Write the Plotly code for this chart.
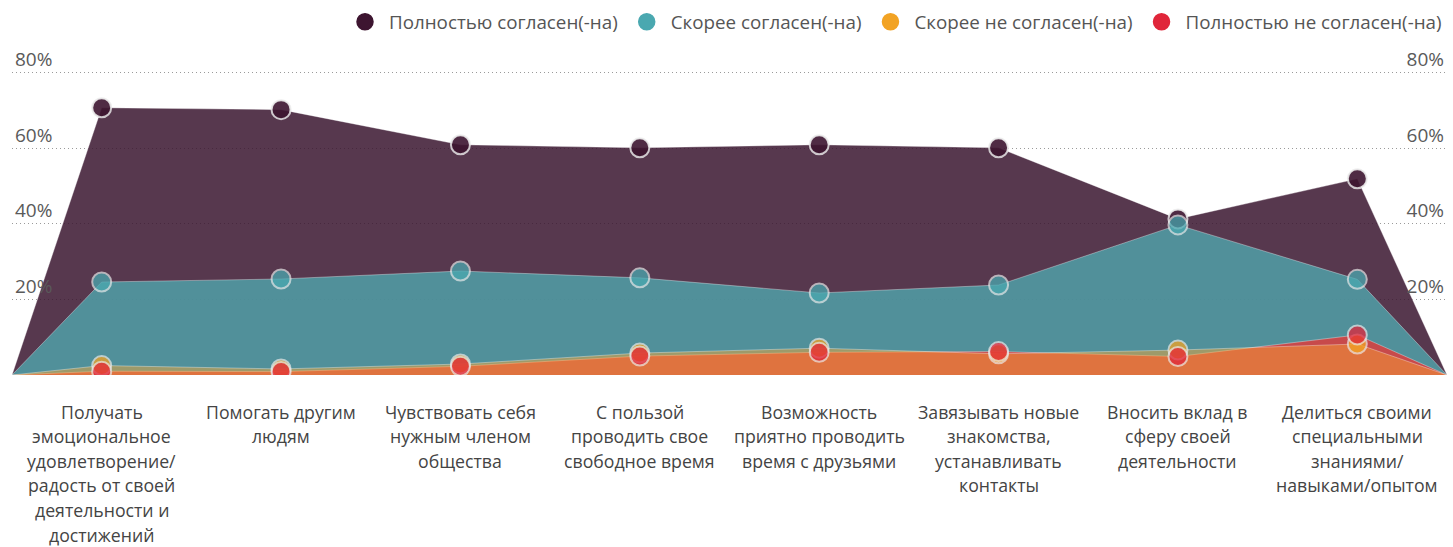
import plotly.graph_objects as go

categories = [
    "Получать<br>эмоциональное<br>удовлетворение/<br>радость от своей<br>деятельности и<br>достижений",
    "Помогать другим<br>людям",
    "Чувствовать себя<br>нужным членом<br>общества",
    "С пользой<br>проводить свое<br>свободное время",
    "Возможность<br>приятно проводить<br>время с друзьями",
    "Завязывать новые<br>знакомства,<br>устанавливать<br>контакты",
    "Вносить вклад в<br>сферу своей<br>деятельности",
    "Делиться своими<br>специальными<br>знаниями/<br>навыками/опытом",
]

series_names = [
    "Полностью согласен(-на)",
    "Скорее согласен(-на)",
    "Скорее не согласен(-на)",
    "Полностью не согласен(-на)",
]
fully_agree = [70.7, 70.2, 60.9, 60.1, 60.9, 60.1, 41.3, 51.9]
rather_agree = [24.6, 25.4, 27.5, 25.7, 21.7, 23.8, 39.7, 25.3]
rather_disagree = [2.5, 1.6, 2.9, 5.8, 7.1, 5.6, 6.6, 8.2]
fully_disagree = [1.0, 0.9, 2.3, 5.0, 6.0, 6.2, 4.9, 10.6]

y_ticks = [0, 20, 40, 60, 80]
y_tick_text = ["", "20%", "40%", "60%", "80%"]

marker_colors = ["#3d1530", "#4aa8b0", "#f2a324", "#e0263a"]
fill_colors = [
    "rgba(58,21,47,0.85)",
    "rgba(80,166,174,0.8)",
    "rgba(253,167,49,0.45)",
    "rgba(229,56,55,0.8)",
]
marker_opacity = [0.9, 0.75, 0.75, 0.75]
values = [fully_agree, rather_agree, rather_disagree, fully_disagree]

xs = list(range(1, len(categories) + 1))
x_area = [0.5] + xs + [len(categories) + 0.5]

Y_TOP = 91
PX_PER_UNIT = 302 / 80
PLOT_H = Y_TOP * PX_PER_UNIT
M_B = 172
M_T = 547 - M_B - PLOT_H

fig = go.Figure()

# areas: purple, teal, red, orange (orange on top, translucent)
for i in [0, 1, 3, 2]:
    fig.add_trace(go.Scatter(
        x=x_area, y=[0] + values[i] + [0],
        mode="lines", fill="tozeroy", fillcolor=fill_colors[i],
        line=dict(width=1, color="rgba(255,255,255,0.35)"),
        hoverinfo="skip", showlegend=False,
    ))

# markers
for i in [0, 1, 2, 3]:
    fig.add_trace(go.Scatter(
        x=xs, y=values[i], mode="markers",
        marker=dict(size=19, color=marker_colors[i], opacity=marker_opacity[i],
                    line=dict(width=2, color="rgba(235,235,235,0.9)")),
        showlegend=False, name=series_names[i],
    ))

# legend entries
for i in range(4):
    fig.add_trace(go.Scatter(
        x=[None], y=[None], mode="markers", name=series_names[i],
        marker=dict(size=16, color=marker_colors[i],
                    line=dict(width=1.5, color=marker_colors[i])),
    ))

# right-side axis carrier
fig.add_trace(go.Scatter(x=[None], y=[None], yaxis="y2", showlegend=False))

for k, lab in enumerate(categories):
    for j, line in enumerate(lab.split("<br>")):
        fig.add_annotation(
            x=xs[k], xref="x", y=0, yref="paper",
            text=line, showarrow=False, xanchor="center", yanchor="middle",
            yshift=-36.5 - 24.6 * j, borderpad=0,
            font=dict(family="Open Sans", size=17.7, color="#444444"),
        )

tickfont = dict(family="Open Sans", size=19, color="#5a5a5a")

fig.update_layout(
    width=1453, height=547,
    margin=dict(l=12, r=6, t=M_T, b=M_B, autoexpand=False),
    paper_bgcolor="white", plot_bgcolor="white",
    font=dict(family="Open Sans", size=17, color="#555555"),
    xaxis=dict(range=[0.5, len(categories) + 0.5], showgrid=False,
               zeroline=False, showticklabels=False, showline=False,
               automargin=False),
    yaxis=dict(range=[0, Y_TOP], tickvals=y_ticks, ticktext=y_tick_text,
               ticklabelposition="inside top", showgrid=True,
               gridcolor="#9a9a9a", griddash="1px,3px", gridwidth=1,
               zeroline=False, showline=False, automargin=False,
               ticks="", tickfont=tickfont),
    yaxis2=dict(range=[0, Y_TOP], overlaying="y", side="right",
                tickvals=y_ticks, ticktext=y_tick_text,
                ticklabelposition="inside top", showgrid=False,
                zeroline=False, showline=False, automargin=False,
                ticks="", tickfont=tickfont),
    legend=dict(orientation="h", xref="container", yref="container",
                x=1447 / 1453, xanchor="right", y=1 - 22 / 547,
                yanchor="middle", itemwidth=38,
                font=dict(family="Open Sans", size=18.8, color="#555555"),
                bgcolor="rgba(0,0,0,0)"),
    hovermode=False,
)

fig.write_html("out.html",
               config={"displayModeBar": False},
               post_script="document.body.style.margin='0px';")
